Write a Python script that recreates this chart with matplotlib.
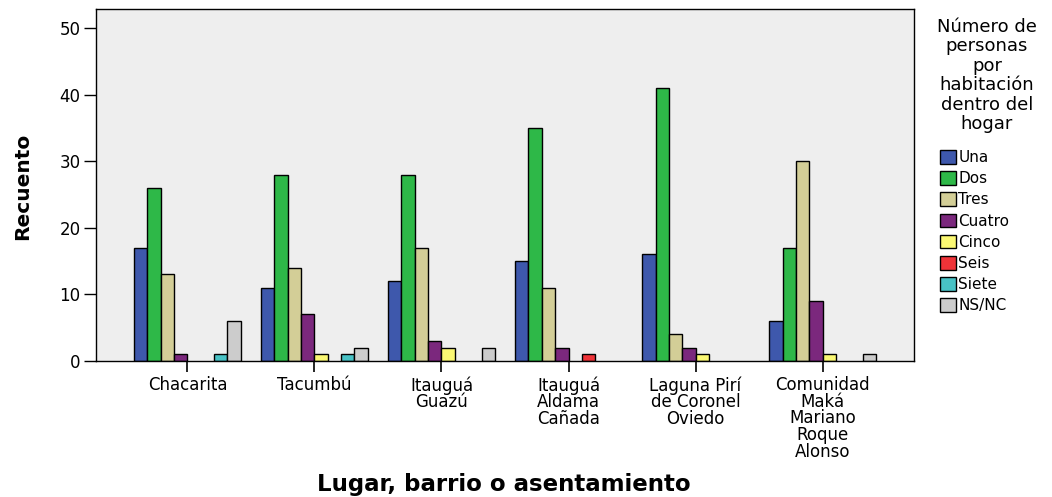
import numpy as np
import matplotlib.pyplot as plt
from matplotlib.patches import Patch

plt.rcParams['font.family'] = ['DejaVu Sans']

# Data
lugares = ['Chacarita', 'Tacumbú', 'Itauguá\nGuazú', 'Itauguá\nAldama\nCañada',
           'Laguna Pirí\nde Coronel\nOviedo', 'Comunidad\nMaká\nMariano\nRoque\nAlonso']
categorias = ['Una', 'Dos', 'Tres', 'Cuatro', 'Cinco', 'Seis', 'Siete', 'NS/NC']
una = [17, 11, 12, 15, 16, 6]
dos = [26, 28, 28, 35, 41, 17]
tres = [13, 14, 17, 11, 4, 30]
cuatro = [1, 7, 3, 2, 2, 9]
cinco = [0, 1, 2, 0, 1, 1]
seis = [0, 0, 0, 1, 0, 0]
siete = [1, 1, 0, 0, 0, 0]
nsnc = [6, 2, 2, 0, 0, 1]
series = [una, dos, tres, cuatro, cinco, seis, siete, nsnc]
colores = ['#3E58AC', '#2EB848', '#D3CE97', '#7B287D', '#FBF873', '#EF3338', '#48C2C5', '#CCCCCC']

fig = plt.figure(figsize=(10.52, 4.97), dpi=100)
ax = fig.add_axes([96 / 1052, 1 - 361 / 497, (914 - 96) / 1052, (361 - 9) / 497])
ax.set_facecolor('#EEEEEE')

x = np.arange(len(lugares))
w = 0.105
for k, (vals, col) in enumerate(zip(series, colores)):
    vals = np.array(vals)
    mask = vals > 0
    ax.bar(x[mask] + (k - 3.5) * w, vals[mask], width=w, color=col,
           edgecolor='black', linewidth=1.0)

ax.set_xlim(-0.72, 5.72)
ax.set_ylim(0, 52.85)
ax.set_yticks([0, 10, 20, 30, 40, 50])
ax.set_xticks(x)
ax.set_xticklabels(lugares, fontsize=12, linespacing=0.9)
ax.tick_params(axis='y', direction='out', length=9, width=1, labelsize=12, pad=2)
ax.tick_params(axis='x', direction='out', length=8, width=1.2, pad=3)
for s in ax.spines.values():
    s.set_linewidth(1.0)

fig.text(23 / 1052, 1 - 186 / 497, 'Recuento', rotation=90, ha='center', va='center',
         fontsize=14.5, fontweight='bold')
fig.text(504 / 1052, 1 - 485 / 497, 'Lugar, barrio o asentamiento', ha='center', va='center',
         fontsize=16.5, fontweight='bold')

# Legend
fig.text(987 / 1052, 1 - 18 / 497,
         'Número de\npersonas\npor\nhabitación\ndentro del\nhogar',
         ha='center', va='top', fontsize=13, linespacing=1.1)
handles = [Patch(facecolor=c, edgecolor='black', linewidth=1.0) for c in colores]
fig.legend(handles, categorias, loc='upper left', bbox_to_anchor=(940 / 1052, 1 - 150 / 497),
           frameon=False, fontsize=11, handlelength=1.05, handleheight=1.0,
           handletextpad=0.15, labelspacing=0.4, borderpad=0, borderaxespad=0)

fig.savefig('out.png', dpi=100)
